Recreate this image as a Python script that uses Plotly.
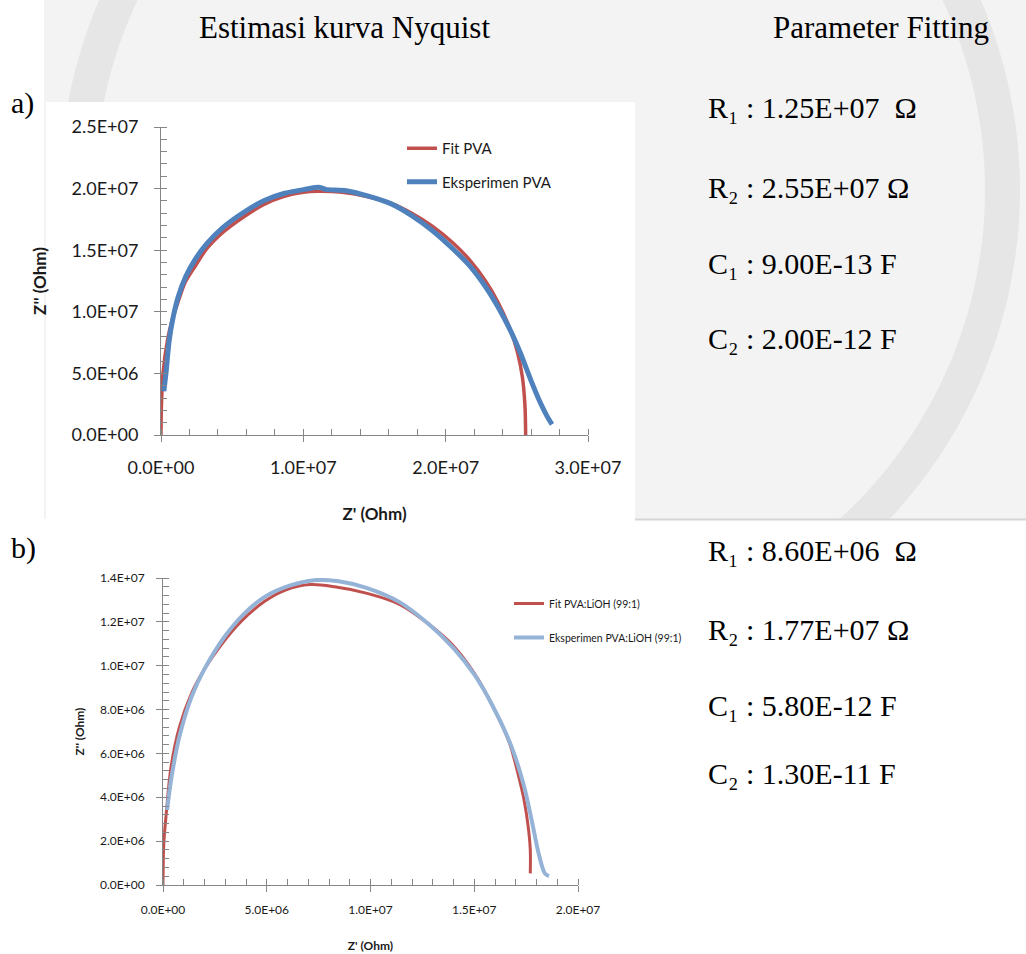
import numpy as np
import plotly.graph_objects as go

W, H = 1026, 954


def px(x):
    return x / W


def py(y):
    return 1 - y / H


# ---------------- data: panel a (PVA) ----------------
fit_a_x = [0, 2.9e4, 1.44e5, 4.6e5, 7.5e5, 1.2e6, 1.7e6, 2.4e6, 3.2e6, 4.4e6, 5.8e6,
           7.2e6, 8.6e6, 1.0e7, 1.1e7, 1.273e7, 1.445e7, 1.618e7, 1.762e7, 1.906e7,
           2.05e7, 2.165e7, 2.28e7, 2.367e7, 2.453e7, 2.505e7, 2.539e7, 2.557e7, 2.562e7]
fit_a_y = [0, 2.34e6, 5.03e6, 7.72e6, 9.2e6, 1.08e7, 1.24e7, 1.37e7, 1.51e7, 1.65e7,
           1.77e7, 1.87e7, 1.935e7, 1.97e7, 1.978e7, 1.97e7, 1.935e7, 1.88e7, 1.80e7,
           1.695e7, 1.56e7, 1.425e7, 1.25e7, 1.08e7, 8.6e6, 6.7e6, 4.7e6, 2.4e6, 0]
exp_a_x = [2.0e5, 3.5e5, 5.8e5, 8.6e5, 1.21e6, 1.73e6, 2.36e6, 3.22e6, 4.38e6, 5.82e6, 7.26e6,
           8.69e6, 1.013e7, 1.114e7, 1.157e7, 1.301e7, 1.445e7, 1.618e7, 1.762e7, 1.906e7,
           2.05e7, 2.165e7, 2.28e7, 2.367e7, 2.453e7, 2.525e7, 2.597e7, 2.655e7, 2.712e7,
           2.747e7]
exp_a_y = [3.55e6, 5.03e6, 7.72e6, 9.6e6, 1.122e7, 1.284e7, 1.418e7, 1.553e7, 1.687e7, 1.808e7,
           1.903e7, 1.962e7, 1.994e7, 2.01e7, 1.994e7, 1.983e7, 1.943e7, 1.876e7, 1.781e7,
           1.66e7, 1.512e7, 1.378e7, 1.203e7, 1.041e7, 8.53e6, 6.65e6, 4.49e6, 2.88e6, 1.53e6,
           8.6e5]

# ---------------- data: panel b (PVA:LiOH 99:1) ----------------
fit_b_x = [0, 3.9e4, 1.57e5, 3.9e5, 7.9e5, 1.38e6, 1.97e6, 2.76e6, 3.74e6, 4.92e6, 5.9e6,
           7.09e6, 8.27e6, 9.84e6, 1.14e7, 1.28e7, 1.40e7, 1.50e7, 1.59e7, 1.67e7, 1.71e7,
           1.74e7, 1.76e7, 1.77e7, 1.77e7]
fit_b_y = [0, 1.9e6, 3.27e6, 5.4e6, 7.2e6, 8.75e6, 9.8e6, 1.09e7, 1.20e7, 1.295e7, 1.345e7,
           1.37e7, 1.36e7, 1.33e7, 1.28e7, 1.19e7, 1.09e7, 9.66e6, 8.14e6, 6.47e6, 5.1e6,
           3.88e6, 2.66e6, 1.6e6, 5.3e5]
exp_b_x = [2.0e5, 3.9e5, 7.9e5, 1.38e6, 1.97e6, 2.95e6, 3.94e6, 4.92e6, 6.1e6, 7.28e6, 8.46e6,
           9.84e6, 1.14e7, 1.28e7, 1.40e7, 1.50e7, 1.59e7, 1.68e7, 1.74e7, 1.78e7, 1.81e7,
           1.84e7, 1.86e7]
exp_b_y = [3.42e6, 4.8e6, 6.77e6, 8.6e6, 9.8e6, 1.13e7, 1.24e7, 1.315e7, 1.365e7, 1.39e7, 1.385e7,
           1.354e7, 1.29e7, 1.19e7, 1.08e7, 9.6e6, 8.14e6, 6.3e6, 4.5e6, 2.8e6, 1.45e6,
           5.3e5, 4.1e5]

# ---------------- tick labels ----------------
xa_tickvals = [0, 1e7, 2e7, 3e7]
xa_ticktext = ["0.0E+00", "1.0E+07", "2.0E+07", "3.0E+07"]
ya_tickvals = [0, 5e6, 1e7, 1.5e7, 2e7, 2.5e7]
ya_ticktext = ["0.0E+00", "5.0E+06", "1.0E+07", "1.5E+07", "2.0E+07", "2.5E+07"]
xb_tickvals = [0, 5e6, 1e7, 1.5e7, 2e7]
xb_ticktext = ["0.0E+00", "5.0E+06", "1.0E+07", "1.5E+07", "2.0E+07"]
yb_tickvals = [0, 2e6, 4e6, 6e6, 8e6, 1e7, 1.2e7, 1.4e7]
yb_ticktext = ["0.0E+00", "2.0E+06", "4.0E+06", "6.0E+06", "8.0E+06", "1.0E+07", "1.2E+07", "1.4E+07"]

# ---------------- text ----------------
title_left = "Estimasi kurva Nyquist"
title_right = "Parameter Fitting"
params_a = ["R\u2081 : 1.25E+07 \u00a0Ω", "R\u2082 : 2.55E+07 Ω",
            "C\u2081 : 9.00E-13 F", "C\u2082 : 2.00E-12 F"]
params_b = ["R\u2081 : 8.60E+06 \u00a0Ω", "R\u2082 : 1.77E+07 Ω",
            "C\u2081 : 5.80E-12 F", "C\u2082 : 1.30E-11 F"]

RED = "#C0504D"
BLUE = "#4F81BD"
LIGHTBLUE = "#95B3D7"
AXC = "#868686"
SANS = "Lato, 'Open Sans', sans-serif"
SERIF = "'Liberation Serif', 'Times New Roman', serif"

fig = go.Figure()
fig.add_trace(go.Scatter(x=fit_a_x, y=fit_a_y, mode="lines", name="Fit PVA",
                         line=dict(color=RED, width=3.5, shape="spline", smoothing=0.8),
                         xaxis="x", yaxis="y", legend="legend", legendgroup="a1"))
fig.add_trace(go.Scatter(x=exp_a_x, y=exp_a_y, mode="lines", name="Eksperimen PVA",
                         line=dict(color=BLUE, width=5, shape="spline", smoothing=0.8),
                         xaxis="x", yaxis="y", legend="legend", legendgroup="a2"))
fig.add_trace(go.Scatter(x=fit_b_x, y=fit_b_y, mode="lines", name="Fit PVA:LiOH (99:1)",
                         line=dict(color=RED, width=3, shape="spline", smoothing=0.9),
                         xaxis="x2", yaxis="y2", legend="legend2", legendgroup="b1"))
fig.add_trace(go.Scatter(x=exp_b_x, y=exp_b_y, mode="lines", name="Eksperimen PVA:LiOH (99:1)",
                         line=dict(color=LIGHTBLUE, width=4, shape="spline", smoothing=0.9),
                         xaxis="x2", yaxis="y2", legend="legend2", legendgroup="b2"))


def axis(domain, anchor, rng, tv, tt, minor_dt, fs, title, tfs, standoff, lblstand):
    return dict(domain=domain, anchor=anchor, range=rng, tickmode="array", tickvals=tv,
                ticktext=tt, showline=True, linecolor=AXC, linewidth=1, ticks="outside",
                ticklen=6, tickcolor=AXC, showgrid=False, zeroline=False,
                automargin=False, ticklabelstandoff=lblstand,
                minor=dict(tickmode="linear", tick0=0, dtick=minor_dt, ticks="inside",
                           ticklen=6, tickcolor=AXC, showgrid=False),
                tickfont=dict(family=SANS, size=fs, color="#1a1a1a"),
                title=dict(text=title, standoff=standoff,
                           font=dict(family=SANS, size=tfs, color="#1a1a1a", weight="bold")),
                fixedrange=True)


layout = dict(
    width=W, height=H, autosize=False,
    margin=dict(l=0, r=0, t=0, b=0, pad=0, autoexpand=False),
    paper_bgcolor="white", plot_bgcolor="rgba(0,0,0,0)",
    xaxis=axis([px(161), px(588)], "y", [0, 3e7], xa_tickvals, xa_ticktext, 2e6, 18,
               "Z' (Ohm)", 17, 31, 10),
    yaxis=axis([py(435), py(127)], "x", [0, 2.5e7], ya_tickvals, ya_ticktext, 1e6, 18,
               "Z'' (Ohm)", 17, 20, 12),
    xaxis2=axis([px(163), px(578)], "y2", [0, 2e7], xb_tickvals, xb_ticktext, 1e6, 12,
                "Z' (Ohm)", 12, 25, 8),
    yaxis2=axis([py(885), py(578)], "x2", [0, 1.4e7], yb_tickvals, yb_ticktext, 4e5, 12,
                "Z'' (Ohm)", 12, 12, 9),
    legend=dict(x=px(402), y=py(132), xanchor="left", yanchor="top",
                bgcolor="rgba(0,0,0,0)", tracegroupgap=11,
                font=dict(family=SANS, size=15, color="#1a1a1a")),
    legend2=dict(x=px(509), y=py(589), xanchor="left", yanchor="top",
                 bgcolor="rgba(0,0,0,0)", tracegroupgap=15,
                 font=dict(family=SANS, size=10.5, color="#1a1a1a")),
)
fig.update_layout(**layout)

# ---------------- background decoration (page watermark band) ----------------
shapes = []
shapes.append(dict(type="rect", xref="paper", yref="paper", x0=px(44), x1=1, y0=py(519), y1=1,
                   fillcolor="#f3f3f3", line=dict(width=0), layer="below"))
cx, cy, r_out, r_in = 540, 190, 480, 445
t = np.linspace(0, 2 * np.pi, 181)
outer = [(px(cx + r_out * np.cos(a)), py(cy + r_out * np.sin(a))) for a in t]
inner = [(px(cx + r_in * np.cos(a)), py(cy + r_in * np.sin(a))) for a in t[::-1]]
path = "M " + " L ".join(f"{x:.4f},{y:.4f}" for x, y in outer) + " Z M " + \
       " L ".join(f"{x:.4f},{y:.4f}" for x, y in inner) + " Z"
shapes.append(dict(type="path", xref="paper", yref="paper", path=path,
                   fillcolor="#e6e6e6", line=dict(width=0), layer="below"))
shapes.append(dict(type="rect", xref="paper", yref="paper", x0=0, x1=1, y0=0, y1=py(519),
                   fillcolor="white", line=dict(width=0), layer="below"))
shapes.append(dict(type="rect", xref="paper", yref="paper", x0=0, x1=px(44), y0=py(519), y1=1,
                   fillcolor="white", line=dict(width=0), layer="below"))
shapes.append(dict(type="line", xref="paper", yref="paper", x0=px(635), x1=1, y0=py(519.5),
                   y1=py(519.5), line=dict(color="#d6d6d6", width=2), layer="below"))
shapes.append(dict(type="rect", xref="paper", yref="paper", x0=px(46), x1=px(635), y0=py(520),
                   y1=py(102), fillcolor="white", line=dict(width=0), layer="below"))
fig.update_layout(shapes=shapes)

# ---------------- text annotations ----------------
ann = []
ann.append(dict(text=title_left, x=px(344), y=py(28), xanchor="center", yanchor="middle", size=31))
ann.append(dict(text=title_right, x=px(771), y=py(28), xanchor="left", yanchor="middle", size=31))
ann.append(dict(text="a)", x=px(9), y=py(103), xanchor="left", yanchor="middle", size=30))
ann.append(dict(text="b)", x=px(9), y=py(548), xanchor="left", yanchor="middle", size=30))
for txt, yy in zip(params_a, [106, 186, 263, 337]):
    ann.append(dict(text=txt, x=px(706), y=py(yy + 1), xanchor="left", yanchor="middle", size=30))
for txt, yy in zip(params_b, [549, 628, 704, 772]):
    ann.append(dict(text=txt, x=px(706), y=py(yy + 1), xanchor="left", yanchor="middle", size=30))
for a in ann:
    s = a.pop("size")
    a.update(xref="paper", yref="paper", showarrow=False,
             font=dict(family=SERIF, size=s, color="black"))
fig.update_layout(annotations=ann)

fig.write_html("out.html", config={"displayModeBar": False},
               post_script="document.body.style.margin='0px';document.body.style.padding='0px';")
